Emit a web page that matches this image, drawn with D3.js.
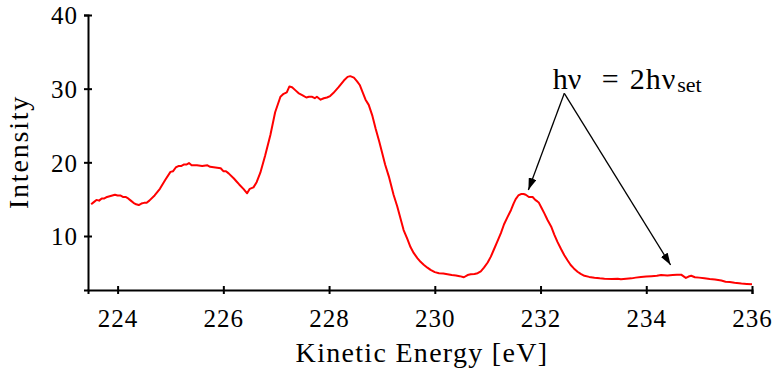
<!DOCTYPE html>
<html lang="en">
<head>
  <meta charset="UTF-8" />
  <title>Kinetic Energy spectrum</title>
  <script src="https://cdn.jsdelivr.net/npm/d3@7"></script>
  <style>
    html, body { margin: 0; padding: 0; background: #fff; }
    svg { display: block; }
  </style>
</head>
<body>
  <script>
    // ----------------------------
    // Data
    // ----------------------------
    const energy = [
      223.50, 223.55, 223.60, 223.65, 223.70, 223.75, 223.80, 223.85, 223.90, 223.95,
      224.00, 224.05, 224.10, 224.15, 224.20, 224.25, 224.30, 224.35, 224.40, 224.45,
      224.50, 224.55, 224.60, 224.70, 224.80, 224.90, 225.00, 225.05, 225.10, 225.15,
      225.20, 225.25, 225.30, 225.35, 225.40, 225.50, 225.60, 225.70, 225.75, 225.85,
      225.95, 226.00, 226.05, 226.10, 226.20, 226.25, 226.30, 226.38, 226.45, 226.50,
      226.57, 226.63, 226.70, 226.79, 226.89, 226.98, 227.08, 227.14, 227.20, 227.25,
      227.30, 227.36, 227.42, 227.50, 227.57, 227.62, 227.68, 227.73, 227.77, 227.84,
      227.90, 227.96, 228.02, 228.08, 228.18, 228.28, 228.35, 228.40, 228.47, 228.53,
      228.58, 228.63, 228.69, 228.75, 228.82, 228.88, 228.95, 229.00, 229.06, 229.13,
      229.22, 229.29, 229.35, 229.41, 229.48, 229.54, 229.60, 229.67, 229.73, 229.79,
      229.86, 229.92, 230.00, 230.08, 230.16, 230.24, 230.32, 230.40, 230.47, 230.55,
      230.62, 230.68, 230.75, 230.81, 230.87, 230.93, 231.00, 231.06, 231.12, 231.18,
      231.25, 231.31, 231.37, 231.44, 231.49, 231.53, 231.58, 231.63, 231.68, 231.72,
      231.78, 231.85, 231.90, 231.94, 231.97, 232.02, 232.07, 232.13, 232.20, 232.26,
      232.32, 232.39, 232.45, 232.51, 232.57, 232.63, 232.70, 232.76, 232.83, 232.92,
      233.02, 233.12, 233.21, 233.35, 233.46, 233.52, 233.62, 233.72, 233.80, 233.90,
      234.00, 234.10, 234.20, 234.28, 234.40, 234.50, 234.58, 234.66, 234.72, 234.75,
      234.80, 234.85, 234.92, 235.00, 235.10, 235.20, 235.30, 235.42, 235.50, 235.58,
      235.67, 235.80, 235.90, 236.00
    ];
    const intensity = [
      14.3, 14.6, 14.9, 14.8, 15.1, 15.1, 15.3, 15.4, 15.5, 15.6,
      15.5, 15.5, 15.3, 15.3, 15.1, 14.8, 14.5, 14.3, 14.2, 14.4,
      14.5, 14.5, 14.8, 15.5, 16.4, 17.6, 18.7, 18.8, 19.3, 19.5,
      19.5, 19.7, 19.7, 19.9, 19.6, 19.6, 19.5, 19.6, 19.4, 19.3,
      19.2, 18.8, 18.8, 18.5, 17.8, 17.4, 17.0, 16.4, 15.8, 16.4,
      16.6, 17.3, 18.6, 20.9, 23.7, 26.8, 28.9, 29.3, 29.5, 30.3,
      30.2, 29.8, 29.4, 29.1, 28.8, 28.9, 28.9, 28.7, 28.9, 28.5,
      28.7, 28.8, 29.0, 29.4, 30.2, 31.1, 31.6, 31.7, 31.5, 31.0,
      30.5, 29.6, 28.5, 27.8, 26.3, 24.6, 22.8, 21.4, 19.7, 18.1,
      15.6, 14.0, 12.4, 10.8, 9.6, 8.5, 7.7, 7.0, 6.5, 6.1,
      5.7, 5.4, 5.1, 4.95, 4.9, 4.8, 4.7, 4.65, 4.55, 4.4,
      4.7, 4.8, 4.85, 4.95, 5.2, 5.7, 6.4, 7.2, 8.2, 9.2,
      10.4, 11.6, 12.5, 13.5, 14.4, 15.0, 15.5, 15.7, 15.7, 15.6,
      15.3, 15.3, 14.9, 14.7, 14.5, 13.8, 13.1, 12.2, 11.3, 10.2,
      9.2, 8.2, 7.4, 6.7, 6.06, 5.6, 5.15, 4.85, 4.6, 4.45,
      4.34, 4.25, 4.2, 4.15, 4.2, 4.12, 4.2, 4.25, 4.35, 4.45,
      4.5, 4.55, 4.6, 4.7, 4.65, 4.7, 4.75, 4.75, 4.45, 4.3,
      4.5, 4.6, 4.4, 4.35, 4.25, 4.15, 4.1, 3.95, 3.8, 3.75,
      3.65, 3.55, 3.5, 3.45
    ];
    const xTicks = [224, 226, 228, 230, 232, 234, 236];
    const yTicks = [10, 20, 30, 40];

    // annotation: label anchor and the two arrow tips, in data units
    const arrowFrom = [232.45, 29.37];
    const arrowTips = [[231.77, 16.25], [234.46, 6.06]];
    const labelAt = [232.23, 29.9];

    const serif = "'Liberation Serif', 'Times New Roman', serif";

    // ----------------------------
    // Layout
    // ----------------------------
    const width = 775, height = 373;
    const margin = { top: 15, right: 23, bottom: 83, left: 88 };

    const svg = d3.select("body").append("svg")
      .attr("width", width)
      .attr("height", height);

    const x = d3.scaleLinear()
      .domain([223.44, 236])
      .range([margin.left, width - margin.right]);
    const y = d3.scaleLinear()
      .domain([2.67, 40])
      .range([height - margin.bottom, margin.top]);

    // ----------------------------
    // Axes (ticks cross the axis line)
    // ----------------------------
    const xAxis = svg.append("g")
      .attr("transform", `translate(0,${height - margin.bottom})`)
      .call(d3.axisBottom(x).tickValues(xTicks).tickSizeOuter(0).tickSize(4));
    xAxis.select(".domain").attr("stroke", "#000").attr("stroke-width", 2);
    xAxis.selectAll(".tick line").attr("y1", -4).attr("y2", 4)
      .attr("stroke", "#000").attr("stroke-width", 2);
    xAxis.selectAll(".tick text")
      .attr("y", 37).attr("dy", 0)
      .attr("fill", "#000")
      .style("font-family", serif)
      .style("font-size", "25px").style("letter-spacing", "1px");

    const yAxis = svg.append("g")
      .attr("transform", `translate(${margin.left},0)`)
      .call(d3.axisLeft(y).tickValues(yTicks).tickSizeOuter(0).tickSize(4));
    yAxis.select(".domain").attr("stroke", "#000").attr("stroke-width", 2);
    yAxis.selectAll(".tick line").attr("x1", -4).attr("x2", 4)
      .attr("stroke", "#000").attr("stroke-width", 2);
    yAxis.selectAll(".tick text")
      .attr("x", -10).attr("dy", "0.35em")
      .attr("fill", "#000")
      .style("font-family", serif)
      .style("font-size", "25px").style("letter-spacing", "1px");

    // axis titles
    svg.append("text")
      .attr("x", (margin.left + width - margin.right) / 2 + 2)
      .attr("y", 362)
      .attr("text-anchor", "middle")
      .style("font-family", serif)
      .style("font-size", "28px")
      .style("letter-spacing", "1.3px")
      .text("Kinetic Energy [eV]");

    svg.append("text")
      .attr("transform", "translate(28,152) rotate(-90)")
      .attr("text-anchor", "middle")
      .style("font-family", serif)
      .style("font-size", "28px")
      .style("letter-spacing", "1.8px")
      .text("Intensity");

    // ----------------------------
    // Spectrum line
    // ----------------------------
    const points = energy.map((e, i) => [e, intensity[i]]);
    const line = d3.line()
      .x(d => x(d[0]))
      .y(d => y(d[1]));

    svg.append("path")
      .datum(points)
      .attr("fill", "none")
      .attr("stroke", "#ff0000")
      .attr("stroke-width", 2)
      .attr("stroke-linejoin", "round")
      .attr("d", line);

    // ----------------------------
    // Annotation with arrows
    // ----------------------------
    const defs = svg.append("defs");
    defs.append("marker")
      .attr("id", "arrowhead")
      .attr("viewBox", "0 0 12 8")
      .attr("markerWidth", 12)
      .attr("markerHeight", 8)
      .attr("markerUnits", "userSpaceOnUse")
      .attr("refX", 12)
      .attr("refY", 4)
      .attr("orient", "auto")
      .append("path")
        .attr("d", "M0,0 L12,4 L0,8 Z")
        .attr("fill", "#000");

    arrowTips.forEach(tip => {
      svg.append("line")
        .attr("x1", x(arrowFrom[0])).attr("y1", y(arrowFrom[1]))
        .attr("x2", x(tip[0])).attr("y2", y(tip[1]))
        .attr("stroke", "#000")
        .attr("stroke-width", 1.3)
        .attr("marker-end", "url(#arrowhead)");
    });

    const lx = x(labelAt[0]), ly = y(labelAt[1]);
    const label = svg.append("text")
      .attr("x", lx).attr("y", ly)
      .style("font-family", serif)
      .style("font-size", "30px");
    label.append("tspan").attr("x", lx).text("hν");
    label.append("tspan").attr("x", lx + 49).text("=");
    label.append("tspan").attr("x", lx + 77).style("letter-spacing", "1px").text("2hν");
    label.append("tspan")
      .attr("dx", 1).attr("dy", 3)
      .style("font-size", "22px")
      .text("set");
  </script>
</body>
</html>
